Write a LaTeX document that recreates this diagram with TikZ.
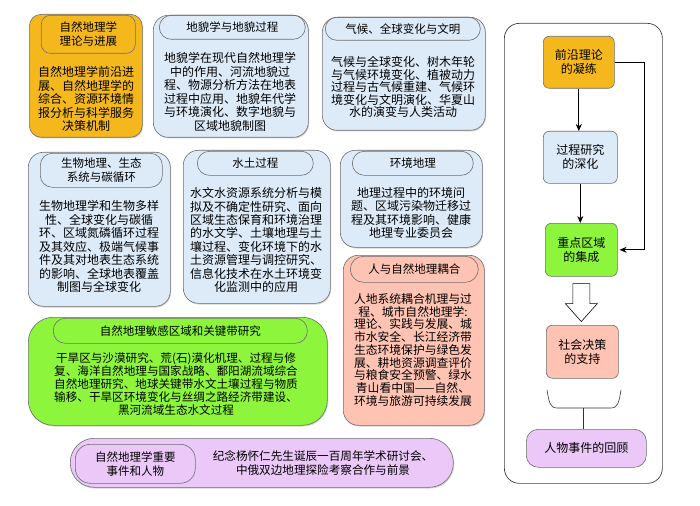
\documentclass[tikz,border=0pt]{standalone}
\usepackage{fontspec}
\setmainfont{Noto Sans CJK SC}
\usetikzlibrary{shadows,calc,arrows.meta}
\definecolor{cOrange}{HTML}{F5B81C}
\definecolor{cBlue}{HTML}{DDEBF9}
\definecolor{cGreen}{HTML}{8CF53C}
\definecolor{cPink}{HTML}{FFC3B3}
\definecolor{cPurple}{HTML}{EBC8F8}
\definecolor{cBorder}{HTML}{6E6E6E}
\begin{document}
\begin{tikzpicture}[x=1pt,y=-1pt,
  outerbox/.style={draw=cBorder, line width=0.6pt, rounded corners=12pt, anchor=north west, inner sep=0pt,
    drop shadow={shadow xshift=0.8pt,shadow yshift=-1.2pt,opacity=0.35}},
  ttl/.style={draw=cBorder, line width=0.6pt, rounded corners=10pt, anchor=north west, inner sep=0pt,
    align=center, font=\fontsize{11.5}{14}\selectfont},
  txt/.style={align=center, inner sep=0pt, font=\fontsize{12}{13.5}\selectfont},
  flowbox/.style={draw=cBorder, line width=0.6pt, rounded corners=6pt, anchor=north west, inner sep=0pt,
    align=center, font=\fontsize{12}{14}\selectfont},
  arr/.style={line width=0.7pt, -{Stealth[length=7pt,width=6pt]}},
  thinline/.style={line width=0.6pt, draw=black!80}
]
\useasboundingbox[fill=white] (0,0) rectangle (700,505);

% ---------- Box 1 ----------
\node[outerbox, fill=cOrange, minimum width=113pt, minimum height=123pt] (b1) at (29,14) {};
\node[ttl, rounded corners=9pt, minimum width=94pt, minimum height=38pt] (t1) at (41,15) {自然地理学\\理论与进展};
\node[txt] (x1) at (86,99) {自然地理学前沿进\\展、自然地理学的\\综合、资源环境情\\报分析与科学服务\\决策机制};

% ---------- Box 2 ----------
\node[outerbox, fill=cBlue, rounded corners=15pt, minimum width=155pt, minimum height=122pt] (b2) at (153,15) {};
\node[ttl, rounded corners=12pt, minimum width=146pt, minimum height=24pt] (t2) at (159,15) {地貌学与地貌过程};
\node[txt] (x2) at (230,92) {地貌学在现代自然地理学\\中的作用、河流地貌过\\程、物源分析方法在地表\\过程中应用、地貌年代学\\与环境演化、数字地貌与\\区域地貌制图};

% ---------- Box 3 ----------
\node[outerbox, fill=cBlue, rounded corners=15pt, minimum width=163pt, minimum height=113pt] (b3) at (322,17) {};
\node[ttl, rounded corners=11.5pt, minimum width=155pt, minimum height=23pt] (t3) at (325,17) {气候、全球变化与文明};
\node[txt, font=\fontsize{12}{12.5}\selectfont] (x3) at (403,87) {气候与全球变化、树木年轮\\与气候环境变化、植被动力\\过程与古气候重建、气候环\\境变化与文明演化、华夏山\\水的演变与人类活动};

% ---------- Box 4 ----------
\node[outerbox, fill=cBlue, rounded corners=15pt, minimum width=142pt, minimum height=154pt] (b4) at (28,152) {};
\node[ttl, rounded corners=12pt, minimum width=122pt, minimum height=34pt] (t4) at (40,153) {生物地理、生态\\系统与碳循环};
\node[txt] (x4) at (99,246.5) {生物地理学和生物多样\\性、全球变化与碳循\\环、区域氮磷循环过程\\及其效应、极端气候事\\件及其对地表生态系统\\的影响、全球地表覆盖\\制图与全球变化};

% ---------- Box 5 ----------
\node[outerbox, fill=cBlue, rounded corners=15pt, minimum width=147pt, minimum height=153pt] (b5) at (183,150) {};
\node[ttl, rounded corners=12pt, minimum width=116pt, minimum height=24pt] (t5) at (197,151) {水土过程};
\node[txt, font=\fontsize{12}{13.4}\selectfont] (x5) at (256,240) {水文水资源系统分析与模\\拟及不确定性研究、面向\\区域生态保育和环境治理\\的水文学、土壤地理与土\\壤过程、变化环境下的水\\土资源管理与调控研究、\\信息化技术在水土环境变\\化监测中的应用};

% ---------- Box 6 ----------
\node[outerbox, fill=cBlue, rounded corners=15pt, minimum width=142pt, minimum height=97pt] (b6) at (340,150) {};
\node[ttl, rounded corners=12pt, minimum width=121pt, minimum height=24pt] (t6) at (352,151) {环境地理};
\node[txt, font=\fontsize{12}{13.3}\selectfont] (x6) at (411,213) {地理过程中的环境问\\题、区域污染物迁移过\\程及其环境影响、健康\\地理专业委员会};

% ---------- Box 7 ----------
\node[outerbox, fill=cPink, rounded corners=15pt, minimum width=141pt, minimum height=170pt] (b7) at (343,255) {};
\node[ttl, rounded corners=13pt, minimum width=128pt, minimum height=26pt] (t7) at (350,256) {人与自然地理耦合};
\node[txt, font=\fontsize{11.8}{12.75}\selectfont] (x7) at (413,350) {人地系统耦合机理与过\\程、城市自然地理学:\\理论、实践与发展、城\\市水安全、长江经济带\\生态环境保护与绿色发\\展、耕地资源调查评价\\与粮食安全预警、绿水\\青山看中国——自然、\\环境与旅游可持续发展};

% ---------- Box 8 ----------
\node[outerbox, fill=cGreen, rounded corners=25pt, minimum width=299pt, minimum height=108pt] (b8) at (28,317) {};
\node[ttl, rounded corners=12pt, minimum width=254pt, minimum height=25pt] (t8) at (53,318) {自然地理敏感区域和关键带研究};
\node[txt, font=\fontsize{11.6}{13}\selectfont] (x8) at (176,384) {干旱区与沙漠研究、荒(石)漠化机理、过程与修\\复、海洋自然地理与国家战略、鄱阳湖流域综合\\自然地理研究、地球关键带水文土壤过程与物质\\输移、干旱区环境变化与丝绸之路经济带建设、\\黑河流域生态水文过程};

% ---------- Box 9 ----------
\node[outerbox, fill=cPurple, rounded corners=24pt, minimum width=383pt, minimum height=49pt] (b9) at (70,438) {};
\node[ttl, rounded corners=15pt, minimum width=120pt, minimum height=39pt] (t9) at (75,444) {自然地理学重要\\事件和人物};
\node[txt, font=\fontsize{11.6}{14}\selectfont] (x9) at (323,463) {纪念杨怀仁先生诞辰一百周年学术研讨会、\\中俄双边地理探险考察合作与前景};

% ---------- Right panel ----------
\node[draw=black!75, line width=0.7pt, rounded corners=15pt, anchor=north west, inner sep=0pt, fill=white,
  minimum width=158pt, minimum height=460pt] (panel) at (504,23) {};
\node[flowbox, fill=cOrange, minimum width=71pt, minimum height=52pt] (A) at (543,36) {前沿理论\\的凝练};
\node[flowbox, fill=cBlue, minimum width=74pt, minimum height=52pt] (B) at (543,131) {过程研究\\的深化};
\node[flowbox, fill=cGreen, minimum width=72pt, minimum height=53pt] (C) at (545,223) {重点区域\\的集成};
\node[flowbox, fill=cPink, minimum width=72pt, minimum height=53pt] (D) at (546,325) {社会决策\\的支持};
\node[flowbox, fill=cPurple, rounded corners=12pt, minimum width=120pt, minimum height=38pt] (E) at (526,429) {人物事件的回顾};

\draw[arr] (A.south) -- (A.south |- B.north);
\draw[arr] (B.south) -- (B.south |- C.north);
\draw[arr, shorten >=2pt] (A.east) -- ++(30,0) |- (C.east);

% hollow block arrow from C to D
\coordinate (ba) at ($(C.south)+(0,7)$);
\draw[line width=0.6pt, fill=white] (ba) ++(-8.5,0) -- ++(17,0) -- ++(0,20) -- ++(7.5,0) -- ++(-16,18) -- ++(-16,-18) -- ++(7.5,0) -- cycle;

% brace below D
\draw[thinline] (547,390) .. controls (549,402) and (550,408) .. (557,408) -- (611,408) .. controls (618,408) and (619,402) .. (621,390);
\coordinate (brc) at (583,408);
\draw[thinline] (brc) -- (brc |- E.north);
\end{tikzpicture}
\end{document}
